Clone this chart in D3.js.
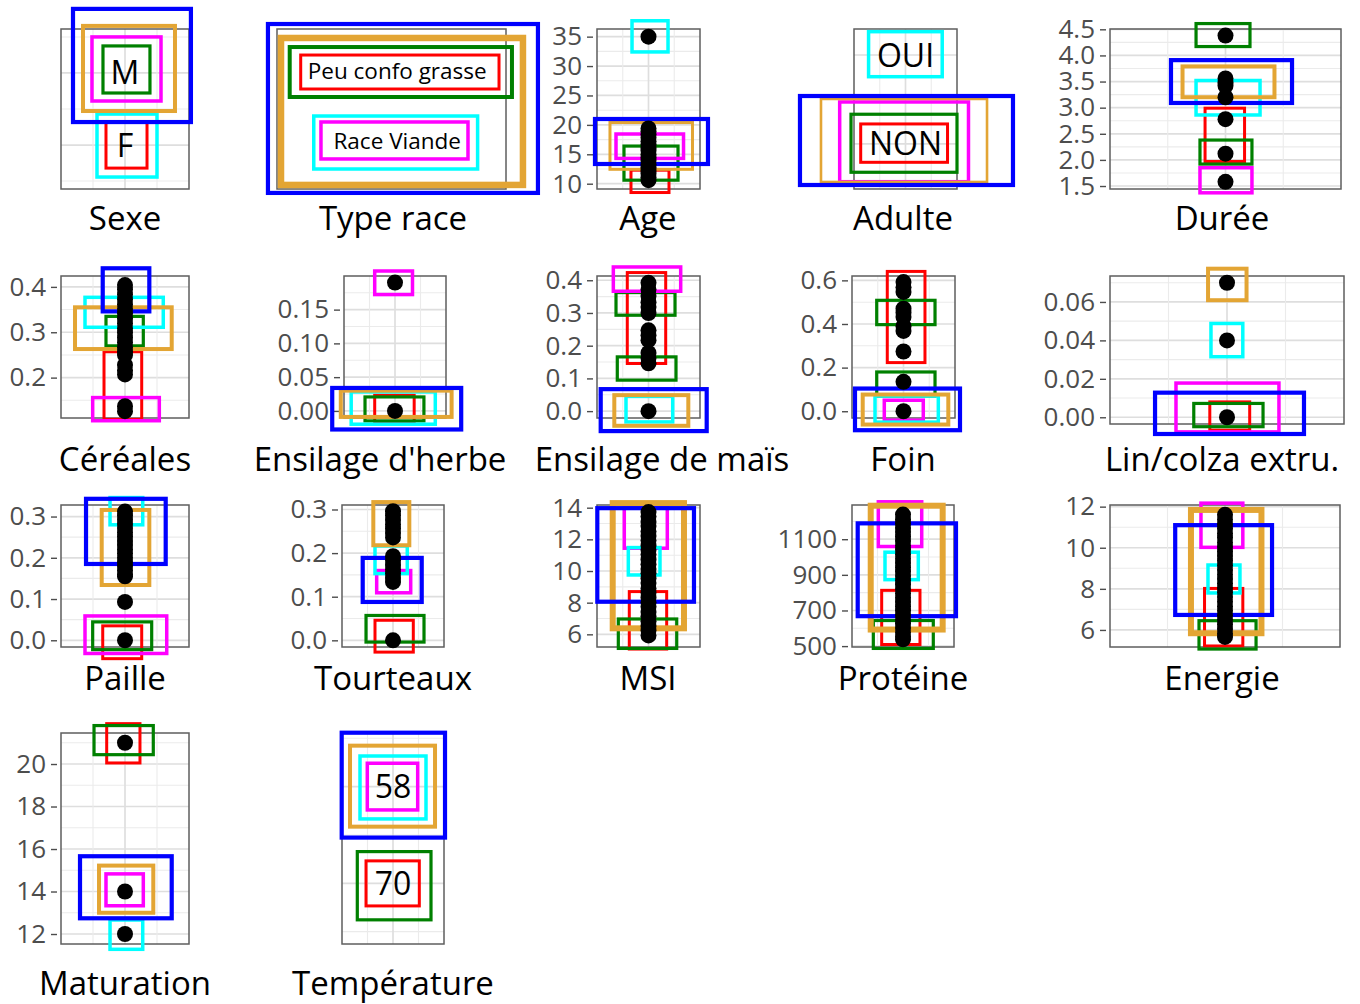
<!DOCTYPE html>
<html lang="fr">
  <head>
    <meta charset="UTF-8" />
    <title>Profils des groupes</title>
    <style>
      body {
        margin: 0;
        background: white;
      }
      .grid-major {
        stroke: #dedede;
        stroke-width: 1.7;
      }
      .grid-minor {
        stroke: #ebebeb;
        stroke-width: 1.1;
      }
      .frame {
        fill: none;
        stroke: #5e5e5e;
        stroke-width: 1.5;
      }
      .tick text {
        font-family: "Open Sans", sans-serif;
        font-size: 26px;
        fill: #4d4d4d;
      }
      .tick line {
        stroke: #4d4d4d;
        stroke-width: 1.4;
      }
      .panel-title {
        font-family: "Open Sans", sans-serif;
        font-size: 33px;
        fill: black;
        text-anchor: middle;
      }
      .cat-label {
        font-family: "Open Sans", sans-serif;
        fill: black;
        text-anchor: middle;
      }
    </style>
  </head>
  <body>
    <script src="https://d3js.org/d3.v7.min.js"></script>
    <script>
      // categories (bottom -> top, position 1, 2)
      const sexeLevels = ["F", "M"];
      const typeRaceLevels = ["Race Viande", "Peu confo grasse"];
      const adulteLevels = ["NON", "OUI"];
      const temperatureLevels = ["70", "58"];

      // observed values
      const agePoints = [10.6, 11.1, 11.7, 12.2, 12.8, 13.3, 13.9, 14.5, 15, 15.6, 16.1, 16.7, 17.2, 17.8, 18.4, 18.9, 19.4, 35];
      const dureePoints = [4.38, 3.56, 3.48, 3.42, 3.2, 2.78, 2.12, 1.58];
      const cerealesPoints = [0.404, 0.394, 0.383, 0.372, 0.362, 0.351, 0.341, 0.33, 0.32, 0.309, 0.299, 0.288, 0.278, 0.267, 0.257, 0.25, 0.228, 0.216, 0.207, 0.137, 0.126];
      const herbePoints = [0.19, 0];
      const maisPoints = [0.392, 0.372, 0.352, 0.333, 0.318, 0.3, 0.247, 0.232, 0.217, 0.178, 0.162, 0.146, 0];
      const foinPoints = [0.592, 0.568, 0.547, 0.47, 0.452, 0.432, 0.39, 0.368, 0.274, 0.135, 0];
      const linPoints = [0.07, 0.04, 0];
      const paillePoints = [0.312, 0.302, 0.292, 0.282, 0.272, 0.262, 0.251, 0.241, 0.231, 0.221, 0.211, 0.2, 0.19, 0.18, 0.17, 0.16, 0.155, 0.093, 0];
      const tourteauxPoints = [0.296, 0.286, 0.276, 0.266, 0.256, 0.246, 0.236, 0.193, 0.183, 0.173, 0.163, 0.153, 0.143, 0.134, 0];
      const msiPoints = [13.72, 13.45, 13.1, 12.84, 12.5, 12.21, 11.93, 11.6, 11.32, 11.05, 10.71, 10.43, 10.12, 9.86, 9.52, 9.24, 8.9, 8.63, 8.31, 8.02, 7.74, 7.41, 7.15, 6.82, 6.53, 6.24, 5.93];
      const proteinePoints = [1238, 1212, 1190, 1163, 1140, 1114, 1090, 1065, 1041, 1016, 990, 967, 941, 918, 893, 868, 845, 820, 796, 771, 748, 722, 699, 674, 650, 626, 601, 577, 552, 538];
      const energiePoints = [11.6, 11.38, 11.15, 10.93, 10.7, 10.49, 10.26, 10.04, 9.81, 9.6, 9.37, 9.15, 8.92, 8.7, 8.48, 8.27, 8.04, 7.82, 7.6, 7.37, 7.15, 6.93, 6.71, 6.49, 6.26, 6.05, 5.83, 5.66];
      const maturationPoints = [21, 14, 12];

      // group boxes: [group, x0, x1, y0, y1]
      const sexeBoxes = [
        ["red", -0.297, 0.344, 0.68, 1.319],
        ["green", -0.344, 0.39, 1.722, 2.375],
        ["magenta", -0.516, 0.5625, 1.611, 2.5],
        ["cyan", -0.4375, 0.5, 0.556, 1.43],
        ["orange", -0.656, 0.781, 1.472, 2.653],
        ["blue", -0.8125, 1.03, 1.319, 2.889],
      ];
      const typeRaceBoxes = [
        ["red", -0.793, 0.939, 1.745, 2.229],
        ["green", -0.889, 1.052, 1.631, 2.343],
        ["magenta", -0.616, 0.668, 0.748, 1.275],
        ["cyan", -0.679, 0.752, 0.605, 1.36],
        ["orange", -0.965, 1.148, 0.378, 2.472],
        ["blue", -1.079, 1.279, 0.264, 2.671],
      ];
      const ageBoxes = [
        ["red", -0.34, 0.398, 8.5, 12.3],
        ["green", -0.476, 0.573, 10.6, 16.4],
        ["magenta", -0.631, 0.68, 14.3, 18.45],
        ["cyan", -0.32, 0.379, 32.4, 37.7],
        ["orange", -0.748, 0.854, 12.45, 20.4],
        ["blue", -1.039, 1.155, 13.35, 21.0],
      ];
      const adulteBoxes = [
        ["red", -0.87, 0.816, 0.794, 1.225],
        ["green", -1.058, 1.0, 0.682, 1.334],
        ["magenta", -1.278, 1.223, 0.576, 1.472],
        ["cyan", -0.717, 0.713, 1.756, 2.262],
        ["orange", -1.641, 1.583, 0.573, 1.506],
        ["blue", -2.049, 2.087, 0.539, 1.539],
      ];
      const dureeBoxes = [
        ["red", -0.177, 0.165, 1.97, 2.99],
        ["green", -0.255, 0.212, 4.17, 4.61],
        ["green", -0.221, 0.229, 1.92, 2.38],
        ["magenta", -0.221, 0.229, 1.37, 1.85],
        ["cyan", -0.255, 0.299, 2.86, 3.52],
        ["orange", -0.372, 0.424, 3.2, 3.79],
        ["blue", -0.472, 0.576, 3.09, 3.91],
      ];
      const cerealesBoxes = [
        ["red", -0.328, 0.261, 0.108, 0.257],
        ["green", -0.297, 0.286, 0.27, 0.335],
        ["magenta", -0.505, 0.536, 0.105, 0.156],
        ["cyan", -0.625, 0.598, 0.311, 0.377],
        ["orange", -0.781, 0.73, 0.263, 0.355],
        ["blue", -0.348, 0.38, 0.346, 0.441],
      ];
      const herbeBoxes = [
        ["red", -0.398, 0.376, -0.0172, 0.0232],
        ["green", -0.588, 0.567, -0.0148, 0.0207],
        ["magenta", -0.398, 0.343, 0.1723, 0.2072],
        ["cyan", -0.859, 0.79, -0.0197, 0.0281],
        ["orange", -1.063, 1.11, -0.0089, 0.03],
        ["blue", -1.231, 1.298, -0.0275, 0.034],
      ];
      const maisBoxes = [
        ["red", -0.412, 0.334, 0.1456, 0.4235],
        ["green", -0.631, 0.515, 0.2931, 0.3624],
        ["green", -0.606, 0.534, 0.0947, 0.1658],
        ["magenta", -0.683, 0.625, 0.3664, 0.4406],
        ["cyan", -0.437, 0.47, -0.033, 0.045],
        ["orange", -0.664, 0.773, -0.0448, 0.0489],
        ["blue", -0.928, 1.13, -0.061, 0.0672],
      ];
      const foinBoxes = [
        ["red", -0.315, 0.417, 0.223, 0.641],
        ["green", -0.52, 0.612, 0.397, 0.5085],
        ["green", -0.52, 0.612, 0.07, 0.18],
        ["magenta", -0.373, 0.384, -0.0412, 0.0504],
        ["cyan", -0.553, 0.676, -0.05, 0.07],
        ["orange", -0.792, 0.87, -0.061, 0.0765],
        ["blue", -0.942, 1.097, -0.087, 0.104],
      ];
      const linBoxes = [
        ["red", -0.147, 0.194, -0.0067, 0.008],
        ["green", -0.284, 0.308, -0.0049, 0.0072],
        ["magenta", -0.436, 0.444, -0.0076, 0.0178],
        ["cyan", -0.137, 0.135, 0.0315, 0.0488],
        ["orange", -0.162, 0.167, 0.0609, 0.0773],
        ["blue", -0.615, 0.658, -0.0087, 0.0128],
      ];
      const pailleBoxes = [
        ["red", -0.348, 0.261, -0.0446, 0.035],
        ["green", -0.505, 0.417, -0.0227, 0.0446],
        ["magenta", -0.625, 0.652, -0.032, 0.059],
        ["cyan", -0.234, 0.277, 0.28, 0.346],
        ["orange", -0.364, 0.38, 0.134, 0.316],
        ["blue", -0.609, 0.636, 0.185, 0.343],
      ];
      const tourteauxBoxes = [
        ["red", -0.353, 0.398, -0.027, 0.046],
        ["green", -0.529, 0.608, -0.004, 0.057],
        ["magenta", -0.32, 0.347, 0.109, 0.16],
        ["cyan", -0.353, 0.28, 0.153, 0.2163],
        ["orange", -0.386, 0.32, 0.218, 0.317],
        ["blue", -0.594, 0.563, 0.088, 0.189],
      ];
      const msiBoxes = [
        ["red", -0.373, 0.353, 5.07, 8.7],
        ["green", -0.586, 0.548, 5.11, 6.97],
        ["magenta", -0.47, 0.365, 11.44, 13.97],
        ["cyan", -0.392, 0.223, 9.75, 11.48],
        ["orange", -0.695, 0.689, 6.38, 14.29],
        ["blue", -0.994, 0.883, 8.06, 13.97],
      ];
      const proteineBoxes = [
        ["red", -0.418, 0.333, 509, 813],
        ["green", -0.582, 0.594, 487, 643.6],
        ["magenta", -0.484, 0.367, 1059, 1310],
        ["cyan", -0.353, 0.3, 873, 1027],
        ["orange", -0.633, 0.778, 593, 1288],
        ["blue", -0.888, 1.039, 668, 1189],
      ];
      const energieBoxes = [
        ["red", -0.178, 0.155, 5.22, 8.02],
        ["green", -0.226, 0.27, 5.07, 6.45],
        ["magenta", -0.209, 0.155, 10.02, 12.17],
        ["cyan", -0.148, 0.13, 7.8, 9.16],
        ["orange", -0.296, 0.317, 5.84, 11.84],
        ["blue", -0.433, 0.409, 6.73, 11.1],
      ];
      const maturationBoxes = [
        ["red", -0.286, 0.234, 20.05, 21.9],
        ["green", -0.484, 0.442, 20.44, 21.81],
        ["magenta", -0.297, 0.286, 13.33, 14.83],
        ["cyan", -0.234, 0.277, 11.28, 12.66],
        ["orange", -0.406, 0.442, 13.0, 15.22],
        ["blue", -0.703, 0.73, 12.74, 15.66],
      ];
      const temperatureBoxes = [
        ["red", -0.529, 0.516, 0.766, 1.232],
        ["green", -0.7, 0.745, 0.622, 1.328],
        ["magenta", -0.504, 0.484, 1.759, 2.242],
        ["cyan", -0.647, 0.647, 1.666, 2.317],
        ["orange", -0.843, 0.824, 1.586, 2.424],
        ["blue", -1.006, 1.02, 1.473, 2.558],
      ];

      // tick labels
      const ageTicks = [10, 15, 20, 25, 30, 35];
      const dureeTicks = [1.5, 2, 2.5, 3, 3.5, 4, 4.5];
      const cerealesTicks = [0.2, 0.3, 0.4];
      const herbeTicks = [0, 0.05, 0.1, 0.15];
      const maisTicks = [0, 0.1, 0.2, 0.3, 0.4];
      const foinTicks = [0, 0.2, 0.4, 0.6];
      const linTicks = [0, 0.02, 0.04, 0.06];
      const pailleTicks = [0, 0.1, 0.2, 0.3];
      const tourteauxTicks = [0, 0.1, 0.2, 0.3];
      const msiTicks = [6, 8, 10, 12, 14];
      const proteineTicks = [500, 700, 900, 1100];
      const energieTicks = [6, 8, 10, 12];
      const maturationTicks = [12, 14, 16, 18, 20];

      const groupColor = {
        red: "#ff0000",
        green: "#008000",
        magenta: "#ff00ff",
        cyan: "#00ffff",
        orange: "#e3a534",
        blue: "#0000ff",
      };
      const groupWidth = { red: 3, green: 3.2, magenta: 3.5, cyan: 3.5, orange: 4, blue: 4.2 };

      // layout: frame = [left, top, right, bottom]
      const panels = [
        { title: "Sexe", frame: [61, 29, 189, 189], tx: 125, ty: 230, dom: [0.39, 2.61], levels: sexeLevels, boxes: sexeBoxes, labelSize: 32 },
        { title: "Type race", frame: [277, 29, 506, 189], tx: 393, ty: 230, dom: [0.32, 2.6], levels: typeRaceLevels, boxes: typeRaceBoxes, labelSize: 22.5, labelX: 0.05, noGrid: true, orangeW: 6.5, greenW: 4 },
        { title: "Age", frame: [597, 29, 700, 189], tx: 648, ty: 230, dom: [9.1, 36.3], points: agePoints, boxes: ageBoxes, ticks: ageTicks, fmt: "d", orangeW: 3 },
        { title: "Adulte", frame: [854, 29, 957, 189], tx: 903, ty: 230, dom: [0.494, 2.292], levels: adulteLevels, boxes: adulteBoxes, labelSize: 32, orangeW: 2.6 },
        { title: "Durée", frame: [1110, 29, 1341, 189], tx: 1222, ty: 230, dom: [1.443, 4.506], points: dureePoints, boxes: dureeBoxes, ticks: dureeTicks, fmt: ".1f" },
        { title: "Céréales", frame: [61, 276, 189, 418], tx: 125, ty: 471, dom: [0.111, 0.424], points: cerealesPoints, boxes: cerealesBoxes, ticks: cerealesTicks, fmt: ".1f" },
        { title: "Ensilage d'herbe", frame: [344, 276, 446, 418], tx: 380, ty: 471, dom: [-0.0105, 0.1998], points: herbePoints, boxes: herbeBoxes, ticks: herbeTicks, fmt: ".2f" },
        { title: "Ensilage de maïs", frame: [597, 276, 700, 418], tx: 662, ty: 471, dom: [-0.021, 0.413], points: maisPoints, boxes: maisBoxes, ticks: maisTicks, fmt: ".1f" },
        { title: "Foin", frame: [852, 276, 955, 418], tx: 903, ty: 471, dom: [-0.031, 0.62], points: foinPoints, boxes: foinBoxes, ticks: foinTicks, fmt: ".1f" },
        { title: "Lin/colza extru.", frame: [1110, 276, 1344, 424], tx: 1222, ty: 471, dom: [-0.0035, 0.0735], points: linPoints, boxes: linBoxes, ticks: linTicks, fmt: ".2f" },
        { title: "Paille", frame: [61, 505, 189, 647], tx: 125, ty: 690, dom: [-0.0163, 0.328], points: paillePoints, boxes: pailleBoxes, ticks: pailleTicks, fmt: ".1f" },
        { title: "Tourteaux", frame: [342, 505, 444, 647], tx: 393, ty: 690, dom: [-0.0153, 0.3103], points: tourteauxPoints, boxes: tourteauxBoxes, ticks: tourteauxTicks, fmt: ".1f" },
        { title: "MSI", frame: [597, 505, 700, 647], tx: 648, ty: 690, dom: [5.2, 14.17], points: msiPoints, boxes: msiBoxes, ticks: msiTicks, fmt: "d", orangeW: 6 },
        { title: "Protéine", frame: [852, 505, 954, 647], tx: 903, ty: 690, dom: [495, 1292], points: proteinePoints, boxes: proteineBoxes, ticks: proteineTicks, fmt: "d", orangeW: 6 },
        { title: "Energie", frame: [1110, 505, 1340, 647], tx: 1222, ty: 690, dom: [5.17, 12.08], points: energiePoints, boxes: energieBoxes, ticks: energieTicks, fmt: "d", orangeW: 6 },
        { title: "Maturation", frame: [61, 733, 189, 944], tx: 125, ty: 995, dom: [11.53, 21.46], points: maturationPoints, boxes: maturationBoxes, ticks: maturationTicks, fmt: "d" },
        { title: "Température", frame: [342, 733, 444, 944], tx: 393, ty: 995, dom: [0.372, 2.555], levels: temperatureLevels, boxes: temperatureBoxes, labelSize: 32 },
      ];

      const svg = d3
        .select("body")
        .append("svg")
        .attr("width", 1360)
        .attr("height", 1004);

      panels.forEach((p) => {
        const [left, top, right, bottom] = p.frame;
        const x = d3.scaleLinear().domain([-1, 1]).range([left, right]);
        const y = d3.scaleLinear().domain(p.dom).range([bottom, top]);
        const g = svg.append("g");

        // grid lines: majors at ticks / categories, minors half way
        if (!p.noGrid) {
          let major, step;
          if (p.levels) {
            major = p.levels.map((d, i) => i + 1);
            step = 1;
          } else {
            major = p.ticks;
            step = p.ticks[1] - p.ticks[0];
          }
          const minor = [];
          for (let v = major[0] - step / 2; v <= p.dom[1]; v += step) {
            if (v >= p.dom[0]) minor.push(v);
          }
          const grid = g.append("g");
          grid
            .selectAll(".grid-minor")
            .data(minor)
            .join("line")
            .attr("class", "grid-minor")
            .attr("x1", left)
            .attr("x2", right)
            .attr("y1", y)
            .attr("y2", y);
          grid
            .selectAll(".grid-major")
            .data(major.filter((v) => v >= p.dom[0] && v <= p.dom[1]))
            .join("line")
            .attr("class", "grid-major")
            .attr("x1", left)
            .attr("x2", right)
            .attr("y1", y)
            .attr("y2", y);
          grid
            .selectAll(".grid-v")
            .data([-0.5, 0, 0.5])
            .join("line")
            .attr("class", (d) => (d === 0 ? "grid-major" : "grid-minor"))
            .attr("x1", x)
            .attr("x2", x)
            .attr("y1", top)
            .attr("y2", bottom);
        }

        g.append("rect")
          .attr("class", "frame")
          .attr("x", left)
          .attr("y", top)
          .attr("width", right - left)
          .attr("height", bottom - top);

        if (p.ticks) {
          g.append("g")
            .attr("transform", `translate(${left - 4}, 0)`)
            .call(
              d3
                .axisLeft(y)
                .tickValues(p.ticks)
                .tickFormat(d3.format(p.fmt))
                .tickSize(6)
                .tickPadding(5)
            )
            .call((a) => a.select(".domain").remove())
            .call((a) => a.selectAll("text").attr("font-size", null).attr("font-family", null));
        }

        // group boxes
        g.append("g")
          .selectAll("rect")
          .data(p.boxes)
          .join("rect")
          .attr("x", (d) => x(d[1]))
          .attr("y", (d) => y(d[4]))
          .attr("width", (d) => x(d[2]) - x(d[1]))
          .attr("height", (d) => y(d[3]) - y(d[4]))
          .attr("fill", "none")
          .attr("stroke", (d) => groupColor[d[0]])
          .attr("stroke-width", (d) => {
            if (d[0] === "orange" && p.orangeW) return p.orangeW;
            if (d[0] === "green" && p.greenW) return p.greenW;
            return groupWidth[d[0]];
          });

        if (p.points) {
          g.append("g")
            .selectAll("circle")
            .data(p.points)
            .join("circle")
            .attr("cx", x(0))
            .attr("cy", (d) => y(d))
            .attr("r", 8)
            .attr("fill", "black");
        }

        if (p.levels) {
          g.append("g")
            .selectAll("text")
            .data(p.levels)
            .join("text")
            .attr("class", "cat-label")
            .attr("font-size", p.labelSize)
            .attr("x", x(p.labelX || 0))
            .attr("y", (d, i) => y(i + 1))
            .attr("dy", "0.36em")
            .text((d) => d);
        }

        g.append("text")
          .attr("class", "panel-title")
          .attr("x", p.tx)
          .attr("y", p.ty)
          .text(p.title);
      });
    </script>
  </body>
</html>
